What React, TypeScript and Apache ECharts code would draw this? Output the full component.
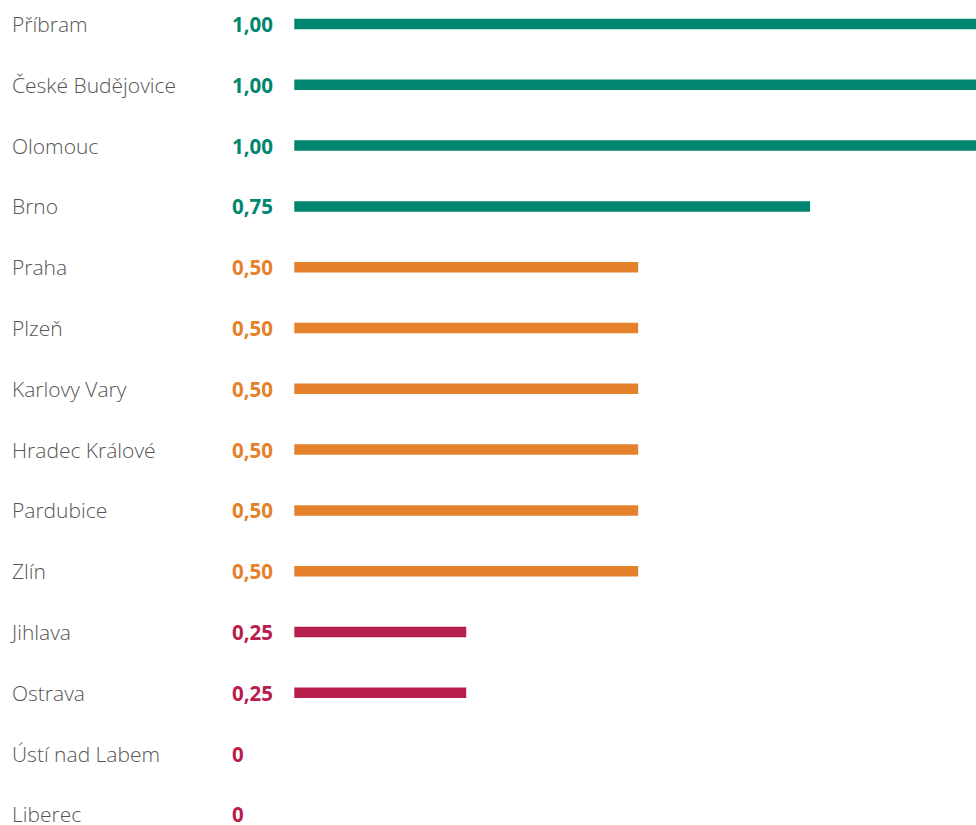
import React, { useEffect, useRef } from "react";
import * as echarts from "echarts";

const categories = [
  "Příbram",
  "České Budějovice",
  "Olomouc",
  "Brno",
  "Praha",
  "Plzeň",
  "Karlovy Vary",
  "Hradec Králové",
  "Pardubice",
  "Zlín",
  "Jihlava",
  "Ostrava",
  "Ústí nad Labem",
  "Liberec",
];

const values = [1, 1, 1, 0.75, 0.5, 0.5, 0.5, 0.5, 0.5, 0.5, 0.25, 0.25, 0, 0];

const valueLabels = ["1,00", "1,00", "1,00", "0,75", "0,50", "0,50", "0,50", "0,50", "0,50", "0,50", "0,25", "0,25", "0", "0"];

// colour group for each city: t = teal, o = orange, r = crimson
const groups = ["t", "t", "t", "t", "o", "o", "o", "o", "o", "o", "r", "r", "r", "r"];

const groupColors: Record<string, string> = {
  t: "#00856f",
  o: "#e5812a",
  r: "#b81e4b",
};

export default function App() {
  const ref = useRef<HTMLDivElement>(null);

  useEffect(() => {
    if (!ref.current) return;
    const chart = echarts.init(ref.current, null, { renderer: "svg" });
    const font = "'Open Sans', 'Noto Sans', sans-serif";
    chart.setOption({
      animation: false,
      grid: { left: 294.3, top: 0.6, right: 0, height: 851.2, containLabel: false },
      xAxis: {
        type: "value",
        min: 0,
        max: 1,
        show: false,
      },
      yAxis: {
        type: "category",
        inverse: true,
        data: categories,
        axisLine: { show: false },
        axisTick: { show: false },
        splitLine: { show: false },
        axisLabel: {
          align: "left",
          margin: 282.3,
          lineHeight: 18,
          formatter: (v: string, i: number) =>
            `{n|${v}}{${groups[i]}|${valueLabels[i]}}`,
          rich: {
            n: {
              width: 220,
              fontFamily: font,
              fontSize: 21,
              lineHeight: 18,
              fontWeight: 300,
              color: "#555555",
            },
            t: { fontFamily: font, fontSize: 20.5, lineHeight: 18, fontWeight: "bold", color: groupColors.t },
            o: { fontFamily: font, fontSize: 20.5, lineHeight: 18, fontWeight: "bold", color: groupColors.o },
            r: { fontFamily: font, fontSize: 20.5, lineHeight: 18, fontWeight: "bold", color: groupColors.r },
          },
        },
      },
      series: [
        {
          type: "bar",
          barWidth: 10.5,
          data: values.map((v, i) => ({
            value: v,
            itemStyle: { color: groupColors[groups[i]] },
          })),
        },
      ],
    });
    return () => chart.dispose();
  }, []);

  return (
    <div style={{ position: "fixed", left: 0, top: 0, width: 976, height: 825, overflow: "hidden", background: "#ffffff" }}>
      <div
        ref={ref}
        style={{ position: "absolute", left: 0, top: -7, width: 982, height: 852 }}
      />
    </div>
  );
}
